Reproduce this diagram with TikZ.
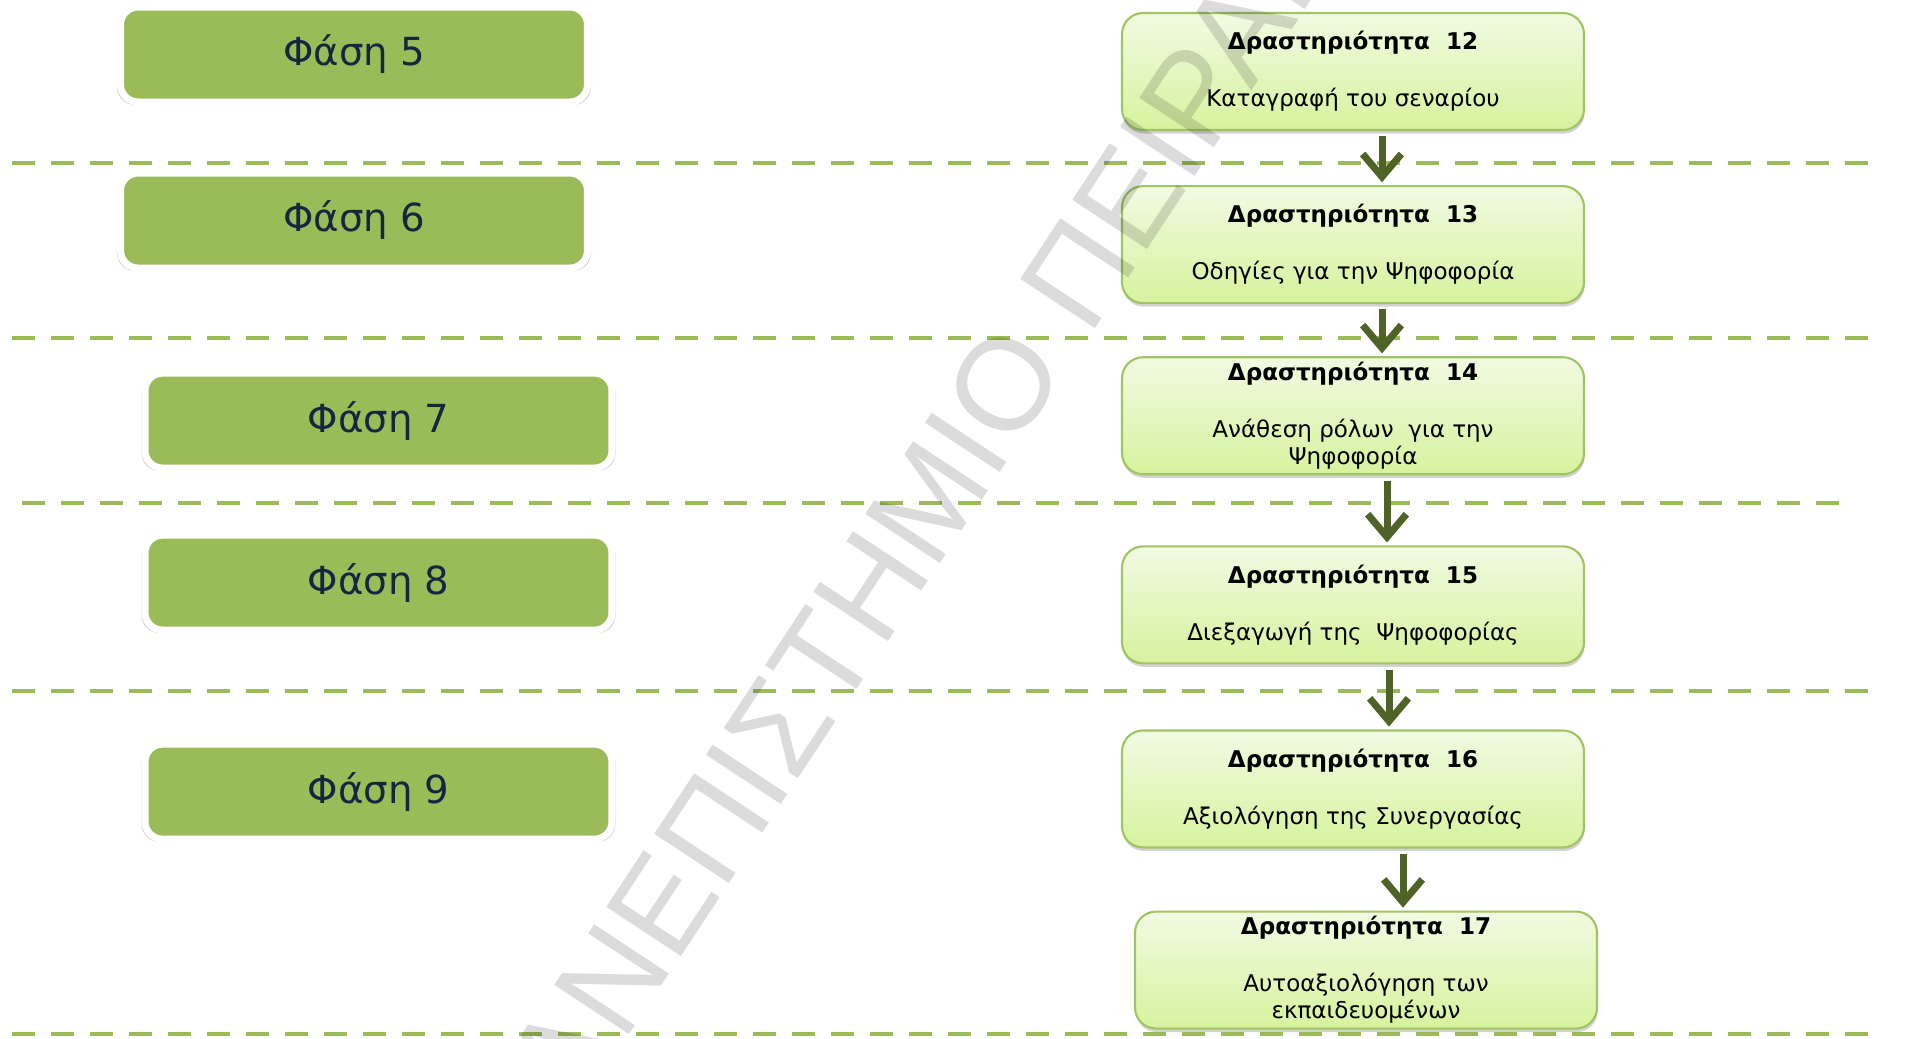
\documentclass[tikz,border=0pt]{standalone}
\usepackage{fontspec}
\newfontfamily\dejavu{DejaVu Sans}
\newfontfamily\markfont{Liberation Sans}
\usetikzlibrary{arrows.meta,positioning,shadows}

\definecolor{phasegreen}{RGB}{155,187,89}
\definecolor{phasetext}{RGB}{22,38,64}
\definecolor{arrowgreen}{RGB}{79,98,40}
\definecolor{actborder}{RGB}{160,196,100}
\definecolor{acttop}{RGB}{241,250,226}
\definecolor{actbottom}{RGB}{214,243,158}

\begin{document}
\begin{tikzpicture}[
  phase/.style={draw=white, line width=2pt, fill=phasegreen, rounded corners=5pt,
    minimum width=4.67cm, minimum height=0.95cm, inner sep=0pt, text=phasetext,
    font=\dejavu\fontsize{11pt}{13pt}\selectfont,
    drop shadow={shadow xshift=0pt, shadow yshift=-0.6pt, shadow scale=1.015,
      opacity=0.4, fill=black!50}},
  activity/.style={draw=actborder, line width=0.6pt, rounded corners=6pt,
    top color=acttop, bottom color=actbottom, minimum width=4.62cm, minimum height=1.17cm,
    inner sep=0pt, align=center, font=\dejavu\fontsize{6.55pt}{7.68pt}\selectfont,
    drop shadow={shadow xshift=0.2pt, shadow yshift=-1pt, opacity=0.35}},
  flow/.style={draw=arrowgreen, line width=2pt, -{Straight Barb[length=6.5pt, width=11pt]},
    shorten <=1.5pt, shorten >=0.8pt},
  band/.style={draw=phasegreen, line width=1.15pt, dash pattern=on 0.23cm off 0.16cm},
  watermark/.style={font=\markfont\fontsize{37pt}{42pt}\selectfont, text=black,
    text opacity=0.14, inner sep=0pt}
]
  \useasboundingbox (0,0) rectangle (19.05,-10.38);

  % separators between the phases
  \draw[band] (0.12,-1.63) -- (18.83,-1.63);
  \draw[band] (0.12,-3.38) -- (18.83,-3.38);
  \draw[band] (0.22,-5.03) -- (18.53,-5.03);
  \draw[band] (0.12,-6.91) -- (18.83,-6.91);
  \draw[band] (0.12,-10.34) -- (18.83,-10.34);

  % phases
  \node[phase] (p5) at (3.54,-0.545) {Φάση 5};
  \node[phase, below=0.64cm of p5] (p6) {Φάση 6};
  \node[phase, below=0.98cm of p6, xshift=0.245cm] (p7) {Φάση 7};
  \node[phase, below=0.60cm of p7] (p8) {Φάση 8};
  \node[phase, below=1.07cm of p8] (p9) {Φάση 9};

  % activities
  \node[activity] (a12) at (13.53,-0.715) {\textbf{Δραστηριότητα~~12}\\[0.3cm]Καταγραφή του σεναρίου};
  \node[activity, below=0.54cm of a12] (a13) {\textbf{Δραστηριότητα~~13}\\[0.3cm]Οδηγίες για την Ψηφοφορία};
  \node[activity, below=0.52cm of a13] (a14) {\textbf{Δραστηριότητα~~14}\\[0.3cm]Ανάθεση ρόλων~~για την\\Ψηφοφορία};
  \node[activity, below=0.70cm of a14] (a15) {\textbf{Δραστηριότητα~~15}\\[0.3cm]Διεξαγωγή της~~Ψηφοφορίας};
  \node[activity, below=0.65cm of a15] (a16) {\textbf{Δραστηριότητα~~16}\\[0.3cm]Αξιολόγηση της Συνεργασίας};
  \node[activity, below=0.62cm of a16, xshift=0.13cm] (a17) {\textbf{Δραστηριότητα~~17}\\[0.3cm]Αυτοαξιολόγηση των\\εκπαιδευομένων};

  \draw[flow] ([xshift=2.9mm]a12.south) -- ([xshift=2.9mm]a12.south |- a13.north);
  \draw[flow] ([xshift=2.9mm]a13.south) -- ([xshift=2.9mm]a13.south |- a14.north);
  \draw[flow] ([xshift=3.4mm]a14.south) -- ([xshift=3.4mm]a14.south |- a15.north);
  \draw[flow] ([xshift=3.6mm]a15.south) -- ([xshift=3.6mm]a15.south |- a16.north);
  \draw[flow] ([xshift=5.0mm]a16.south) -- ([xshift=5.0mm]a16.south |- a17.north);

  \begin{scope}
    \clip (0,0) rectangle (19.05,-10.38);
    \node[watermark, rotate=56.6] (mark) at (9.08,-5.31) {ΠΑΝΕΠΙΣΤΗΜΙΟ ΠΕΙΡΑΙΑ};
  \end{scope}
\end{tikzpicture}
\end{document}
